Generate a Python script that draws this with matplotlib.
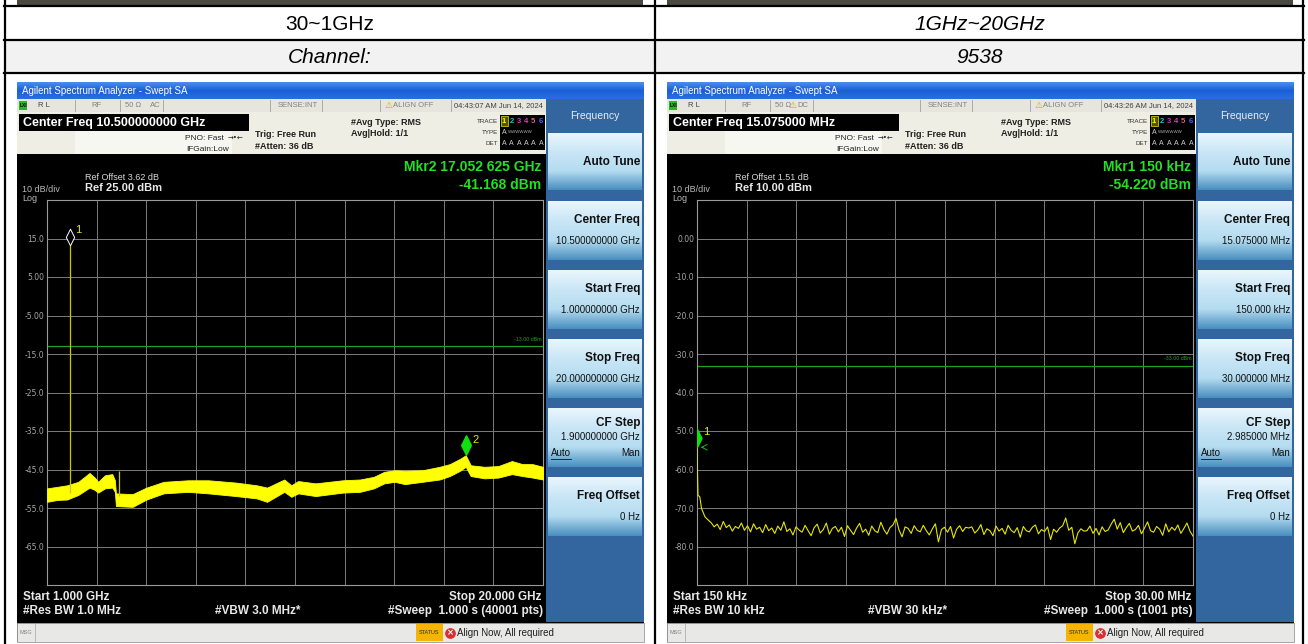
import numpy as np
import matplotlib
matplotlib.use("Agg")
import matplotlib.pyplot as plt
from matplotlib.patches import Rectangle
from matplotlib.path import Path
from matplotlib.ticker import FuncFormatter
from matplotlib.colors import LinearSegmentedColormap
import matplotlib.transforms as mtrans

W, H = 1308, 644
SCR = ['Liberation Sans Narrow', 'Liberation Sans', 'DejaVu Sans']
TAB = ['Liberation Sans', 'DejaVu Sans']

# ---- table text ----
row1_text = ["30~1GHz", "1GHz~20GHz"]
row2_text = ["Channel:", "9538"]

# ---- left screen: 1 GHz .. 20 GHz, ref 25 dBm ----
left_freq_ghz = [1.00, 1.40, 1.77, 2.20, 2.63, 2.83, 2.96, 3.22, 3.50, 3.60,
                 3.64, 4.28, 4.81, 5.47, 6.40, 7.18, 8.24, 9.03, 9.43, 10.09,
                 10.36, 10.62, 11.29, 12.33, 12.99, 13.52, 13.92, 14.32, 14.71, 15.38,
                 16.04, 16.43, 16.83, 17.04, 17.23, 17.76, 18.29, 18.81, 19.21, 19.60, 20.00]
left_upper_dbm = [-49.9, -49.5, -49.1, -48.2, -45.9, -47.1, -48.2, -46.5, -46.2, -47.8,
                  -51.2, -51.4, -49.7, -48.2, -47.8, -47.8, -48.4, -49.1, -49.7, -47.6,
                  -49.1, -48.0, -48.6, -47.8, -47.6, -46.9, -45.6, -45.2, -45.3, -45.2,
                  -44.3, -43.6, -42.2, -41.3, -43.9, -44.3, -44.1, -42.8, -43.6, -43.6, -44.3]
left_lower_dbm = [-53.4, -52.9, -52.8, -51.6, -49.7, -50.3, -51.0, -49.9, -49.7, -50.8,
                  -54.5, -54.7, -52.8, -51.2, -50.8, -51.2, -51.9, -52.5, -53.4, -50.8,
                  -52.1, -51.2, -51.9, -51.0, -50.8, -49.9, -48.6, -48.2, -48.8, -48.2,
                  -47.6, -46.7, -45.3, -44.3, -46.7, -47.3, -47.1, -46.2, -46.7, -47.1, -47.6]
left_spike_ghz = [1.88, 3.75]
left_spike_top = [13.3, -45.5]
left_spike_base = [-51.0, -52.0]
left_mkr_ghz = [1.88, 17.052625]
left_mkr_dbm = [13.3, -41.168]
left_limit_dbm = -13.0

# ---- right screen: 150 kHz .. 30 MHz, ref 10 dBm ----
right_head_mhz = [0.15, 0.21, 0.32, 0.42, 0.63, 0.94]
right_head_dbm = [-54.22, -66.7, -67.1, -70.1, -72.3, -73.6]
right_noise_dbm = [
    -73.8, -74.9, -74.2, -75.6, -73.5, -75.1, -74.4, -76.0, -74.8, -75.3, -73.9, -75.8, -74.6, -76.2, -74.1, -75.5, -75.0, -76.4, -74.3, -75.9,
    -75.2, -76.6, -74.7, -75.8, -73.6, -76.1, -75.4, -77.0, -74.9, -75.7, -76.3, -74.5, -75.9, -77.2, -75.1, -74.2, -76.5, -75.6, -73.9, -76.8,
    -75.3, -74.8, -76.2, -75.0, -77.4, -74.6, -75.8, -76.9, -75.2, -74.0, -76.3, -75.5, -77.1, -74.7, -75.9, -76.4, -73.7, -75.6, -76.8, -75.1,
    -74.4, -72.7, -75.7, -77.5, -74.9, -75.3, -76.6, -74.6, -75.8, -76.2, -74.5, -75.9, -77.0, -75.4, -74.1, -78.8, -75.6, -75.0, -76.3, -74.8,
    -77.8, -75.5, -74.6, -76.1, -75.0, -75.2, -74.9, -76.5, -75.7, -74.3, -76.9, -75.4, -75.9, -77.2, -74.7, -76.0, -75.3, -76.8, -74.5, -75.8,
    -76.4, -75.1, -77.6, -74.8, -75.9, -76.2, -75.0, -74.4, -76.7, -75.6, -76.1, -74.9, -78.2, -75.5, -76.3, -75.2, -74.6, -72.6, -75.8, -75.0,
    -79.3, -76.5, -75.4, -76.0, -75.9, -74.7, -76.6, -75.3, -77.0, -74.9, -76.1, -75.7, -74.2, -72.9, -75.5, -73.8, -76.4, -75.1, -74.0, -76.0,
    -75.6, -74.5, -76.7, -75.2, -73.6, -75.9, -76.3, -74.8, -75.5, -77.1, -74.1, -76.2, -75.0, -75.8, -74.4, -76.6, -75.3, -73.9, -76.0, -77.3]
right_mkr_mhz = [0.15]
right_mkr_dbm = [-54.22]
right_limit_dbm = -33.0

# ---- softkeys ----
sk_titles = ["Auto Tune", "Center Freq", "Start Freq", "Stop Freq", "CF Step", "Freq Offset"]
sk_left_vals = ["", "10.500000000 GHz", "1.000000000 GHz", "20.000000000 GHz", "1.900000000 GHz", "0 Hz"]
sk_right_vals = ["", "15.075000 MHz", "150.000 kHz", "30.000000 MHz", "2.985000 MHz", "0 Hz"]
sk_box = [(133, 190), (201, 260), (270, 329), (339, 398), (408, 467), (477, 536)]

fig = plt.figure(figsize=(W / 100, H / 100), dpi=100)
bg = fig.add_axes([0, 0, 1, 1])
bg.axis('off')


def rect(x0, y0, x1, y1, fc, ec='none', lw=0, z=1):
    bg.add_patch(Rectangle((x0, y0), x1 - x0, y1 - y0, fc=fc, ec=ec, lw=lw, zorder=z))


def txt(x, y, s, size=7, color='black', ha='left', weight='normal', fam=SCR, style='normal', z=5):
    bg.text(x, y, s, fontsize=size, color=color, ha=ha, va='center', fontweight=weight,
            family=fam, style=style, zorder=z)


def grad(x0, y0, x1, y1, colors, z=2):
    cm = LinearSegmentedColormap.from_list('g', colors)
    g = np.linspace(0, 1, 64).reshape(-1, 1)
    bg.imshow(g, cmap=cm, extent=(x0, x1, y1, y0), aspect='auto', zorder=z, interpolation='bilinear')


# ---- table ----
rect(17, 0, 643, 5, '#4a4840')
rect(667, 0, 1293, 5, '#4a4840')
rect(5, 41, 1303, 73, '#f2f2f2')
for yy in [6, 40, 73]:
    bg.plot([4, 1304], [yy, yy], color='black', lw=1.6, zorder=6)
for xx in [5, 655, 1303]:
    bg.plot([xx, xx], [0, 644], color='black', lw=1.6, zorder=6)
txt(330, 24, row1_text[0], size=15, fam=TAB, ha='center')
txt(980, 24, row1_text[1], size=15, fam=TAB, ha='center', style='italic')
txt(330, 57, row2_text[0], size=15, fam=TAB, ha='center', style='italic')
txt(980, 57, row2_text[1], size=15, fam=TAB, ha='center', style='italic')

ylab = FuncFormatter(lambda v, p: '%.1f' % v if abs(v) >= 9.99 else '%.2f' % v)


def screen(ox, center_txt, ref_off, ref_txt, mkr_lines, clock, warn_dc, sk_vals,
           start_txt, stop_txt, rbw_txt, vbw_txt, sweep_txt, ref_level):
    rect(ox + 17, 82, ox + 644, 642, 'black', z=1)
    # title bar
    grad(ox + 17, 82, ox + 644, 99, ['#4d8ef0', '#1b5fd6', '#2a6ee0'])
    txt(ox + 22, 91, "Agilent Spectrum Analyzer - Swept SA", size=7, color='white')
    # status row
    rect(ox + 17, 99, ox + 546, 112, '#e6e6df', z=2)
    for sx in [75, 120, 163, 270, 322, 380, 451]:
        bg.plot([ox + sx, ox + sx], [100, 111], color='#a0a0a0', lw=0.6, zorder=3)
    rect(ox + 19, 101, ox + 27, 110, '#22bb22', z=3)
    txt(ox + 20, 105.5, "LXI", size=3.5, color='black', weight='bold')
    txt(ox + 38, 105.5, "R L", size=5.5, color='#404040')
    txt(ox + 91, 105.5, "RF", size=5.5, color='#808080')
    txt(ox + 125, 105.5, "50 Ω", size=5.5, color='#808080')
    if warn_dc:
        txt(ox + 139, 105.5, "⚠", size=6.5, color='#d8a800', fam=['DejaVu Sans'])
        txt(ox + 147, 105.5, "DC", size=5.5, color='#808080')
    else:
        txt(ox + 150, 105.5, "AC", size=5.5, color='#808080')
    txt(ox + 318, 105.5, "SENSE:INT", size=5.5, color='#808080', ha='right')
    txt(ox + 385, 105.5, "⚠", size=6.5, color='#d8a800', fam=['DejaVu Sans'])
    txt(ox + 393, 105.5, "ALIGN OFF", size=5.5, color='#808080')
    txt(ox + 454, 105.5, clock, size=5.5, color='#404040')
    # settings block
    rect(ox + 17, 112, ox + 546, 154, '#efeee4', z=2)
    rect(ox + 75, 131, ox + 232, 154, '#f7f7f2', z=2)
    rect(ox + 19, 114, ox + 249, 131, 'black', z=3)
    txt(ox + 23, 123, center_txt, size=9, color='white', weight='bold')
    txt(ox + 224, 138, "PNO: Fast", size=6, color='#202020', ha='right')
    txt(ox + 228, 138, "→•←", size=5, color='#202020', fam=['DejaVu Sans'])
    txt(ox + 229, 149, "IFGain:Low", size=6, color='#202020', ha='right')
    txt(ox + 255, 134, "Trig: Free Run", size=6.5, color='#202020', weight='bold')
    txt(ox + 255, 146, "#Atten: 36 dB", size=6.5, color='#202020', weight='bold')
    txt(ox + 351, 122, "#Avg Type: RMS", size=6.5, color='#202020', weight='bold')
    txt(ox + 351, 133, "Avg|Hold: 1/1", size=6.5, color='#202020', weight='bold')
    txt(ox + 498, 121, "TRACE", size=4.5, color='#303030', ha='right')
    txt(ox + 498, 132, "TYPE", size=4.5, color='#303030', ha='right')
    txt(ox + 498, 143, "DET", size=4.5, color='#303030', ha='right')
    rect(ox + 500, 115, ox + 545, 150, 'black', z=3)
    rect(ox + 501, 116, ox + 508, 126, '#555500', ec='#c8c800', lw=0.6, z=4)
    tcol = ['#ffff00', '#20c8c8', '#c040c0', '#e040b0', '#e06080', '#5060ff']
    for i, c in enumerate(tcol):
        txt(ox + 502 + i * 7.3, 121, str(i + 1), size=5.5, color=c, weight='bold')
        txt(ox + 502 + i * 7.3, 143, "A", size=5, color='#d0d0d0')
    txt(ox + 502, 132, "A", size=5, color='#d0d0d0')
    txt(ox + 508, 132, "WWWWWW", size=3.2, color='#b0b0b0')
    # softkey panel
    rect(ox + 546, 99, ox + 644, 622, '#33659e', z=2)
    txt(ox + 595, 116, "Frequency", size=7.5, color='#e8eef6', ha='center')
    for (y0, y1), t, v in zip(sk_box, sk_titles, sk_vals):
        grad(ox + 548, y0, ox + 642, y1, ['#eaf6fc', '#c9e6f6', '#b4dcf0', '#4a8fc0'], z=3)
        if v:
            ty = y0 + (y1 - y0) * 0.33 if t != "CF Step" else y0 + 15
            txt(ox + 640, ty, t, size=8.5, color='#101010', weight='bold', ha='right')
            vy = y0 + (y1 - y0) * 0.68 if t != "CF Step" else y0 + 29
            txt(ox + 640, vy, v, size=7, color='#101010', ha='right')
            if t == "CF Step":
                txt(ox + 551, y0 + 45, "Auto", size=7, color='#101010')
                bg.plot([ox + 551, ox + 571], [y0 + 51, y0 + 51], color='#101010', lw=0.6, zorder=5)
                txt(ox + 640, y0 + 45, "Man", size=7, color='#101010', ha='right')
        else:
            txt(ox + 640, (y0 + y1) / 2, t, size=8.5, color='#101010', weight='bold', ha='right')
    # msg bar
    rect(ox + 17, 623, ox + 644, 642, '#e8e8e6', ec='#9a9a9a', lw=0.6, z=2)
    bg.plot([ox + 35, ox + 35], [624, 641], color='#b0b0b0', lw=0.6, zorder=3)
    txt(ox + 20, 633, "MSG", size=4, color='#808080')
    rect(ox + 416, 624, ox + 443, 641, '#f4b400', z=3)
    txt(ox + 429.5, 633, "STATUS", size=4, color='#303030', ha='center')
    bg.scatter([ox + 450], [633], s=45, color='#d83030', zorder=4)
    txt(ox + 450, 633, "×", size=6, color='white', ha='center', weight='bold', fam=['DejaVu Sans'], z=5)
    txt(ox + 457, 633, "Align Now, All required", size=7, color='#202020', fam=TAB)
    # text around grid
    txt(ox + 22, 189, "10 dB/div", size=6.5, color='#b8b8b8')
    txt(ox + 22, 198, "Log", size=6.5, color='#b8b8b8')
    txt(ox + 85, 177, ref_off, size=6.5, color='#d8d8d8')
    txt(ox + 85, 188, ref_txt, size=8, color='#e8e8e8', weight='bold')
    txt(ox + 541, 167, mkr_lines[0], size=10, color='#22e022', ha='right', weight='bold')
    txt(ox + 541, 185, mkr_lines[1], size=10, color='#22e022', ha='right', weight='bold')
    txt(ox + 23, 597, start_txt, size=8.5, color='#e8e8e8', weight='bold')
    txt(ox + 541, 597, stop_txt, size=8.5, color='#e8e8e8', weight='bold', ha='right')
    txt(ox + 23, 611, rbw_txt, size=8.5, color='#e8e8e8', weight='bold')
    txt(ox + 258, 611, vbw_txt, size=8.5, color='#e8e8e8', weight='bold', ha='center')
    txt(ox + 543, 611, sweep_txt, size=8.5, color='#e8e8e8', weight='bold', ha='right')

    x0, x1, y0, y1 = ox + 47, ox + 543, 200, 585
    ax = fig.add_axes([x0 / W, 1 - y1 / H, (x1 - x0) / W, (y1 - y0) / H])
    ax.set_facecolor('black')
    ax.set_ylim(ref_level - 100, ref_level)
    ax.set_yticks(np.arange(ref_level - 100, ref_level + 1, 10))
    ax.yaxis.set_major_formatter(FuncFormatter(
        lambda v, p: '' if abs(v - ref_level) < 1 or abs(v - ref_level + 100) < 1 else ylab(v, p)))
    ax.tick_params(length=0, pad=2, labelsize=5.5, labelcolor='#a8a8a8')
    for s in ax.spines.values():
        s.set_color('#9a9a9a')
        s.set_linewidth(0.8)
    ax.grid(True, color='#7c7c7c', lw=0.7)
    return ax


diamond = Path([(0, 1), (0.5, 0), (0, -1), (-0.5, 0), (0, 1)],
               [Path.MOVETO, Path.LINETO, Path.LINETO, Path.LINETO, Path.CLOSEPOLY])

# left screen
axL = screen(0, "Center Freq 10.500000000 GHz", "Ref Offset 3.62 dB", "Ref 25.00 dBm",
             ["Mkr2 17.052 625 GHz", "-41.168 dBm"], "04:43:07 AM Jun 14, 2024", False, sk_left_vals,
             "Start 1.000 GHz", "Stop 20.000 GHz", "#Res BW 1.0 MHz", "#VBW 3.0 MHz*",
             "#Sweep  1.000 s (40001 pts)", 25)
axL.set_xlim(1, 20)
axL.set_xticks(np.linspace(1, 20, 11))
axL.set_xticklabels([])
axL.fill_between(left_freq_ghz, left_lower_dbm, left_upper_dbm, color='#ffff00', lw=0.6, ec='#ffff00', zorder=3)
axL.vlines(left_spike_ghz, left_spike_base, left_spike_top, color='#c8c800', lw=0.9, zorder=3)
axL.axhline(left_limit_dbm, color='#1fa01f', lw=0.9, zorder=2)
axL.text(19.95, left_limit_dbm + 1.2, "-13.00 dBm", fontsize=3.8, color='#1fa01f', ha='right', va='bottom', family=SCR)
off = mtrans.offset_copy(axL.transData, fig=fig, x=0, y=8.5, units='dots')
axL.plot(left_mkr_ghz[0], left_mkr_dbm[0], marker=diamond, ms=12, mfc='black', mec='white', mew=0.7,
         transform=off, zorder=5, clip_on=False)
axL.plot(left_mkr_ghz[1], left_mkr_dbm[1], marker=diamond, ms=14, mfc='#10e010', mec='#10e010',
         transform=mtrans.offset_copy(axL.transData, fig=fig, x=0, y=10, units='dots'), zorder=5)
axL.annotate("1", (left_mkr_ghz[0], left_mkr_dbm[0]), xytext=(5, 12), textcoords='offset pixels',
             color='#e8e800', fontsize=8, family=SCR)
axL.annotate("2", (left_mkr_ghz[1], left_mkr_dbm[1]), xytext=(6, 12), textcoords='offset pixels',
             color='#e8e800', fontsize=8, family=SCR)

# right screen
axR = screen(650, "Center Freq 15.075000 MHz", "Ref Offset 1.51 dB", "Ref 10.00 dBm",
             ["Mkr1 150 kHz", "-54.220 dBm"], "04:43:26 AM Jun 14, 2024", True, sk_right_vals,
             "Start 150 kHz", "Stop 30.00 MHz", "#Res BW 10 kHz", "#VBW 30 kHz*",
             "#Sweep  1.000 s (1001 pts)", 10)
axR.set_xlim(0.15, 30)
axR.set_xticks(np.linspace(0.15, 30, 11))
axR.set_xticklabels([])
rf = list(right_head_mhz) + list(np.linspace(1.0, 30.0, len(right_noise_dbm)))
rv = list(right_head_dbm) + list(right_noise_dbm)
axR.plot(rf, rv, color='#e6e600', lw=0.8, zorder=3)
axR.axhline(right_limit_dbm, color='#1fa01f', lw=0.9, zorder=2)
axR.text(29.9, right_limit_dbm + 1.2, "-33.00 dBm", fontsize=3.8, color='#1fa01f', ha='right', va='bottom', family=SCR)
axR.plot(right_mkr_mhz[0], right_mkr_dbm[0], marker=diamond, ms=13, mfc='#10e010', mec='#10e010',
         transform=mtrans.offset_copy(axR.transData, fig=fig, x=0, y=9, units='dots'), zorder=5)
axR.annotate("1", (right_mkr_mhz[0], right_mkr_dbm[0]), xytext=(6, 12), textcoords='offset pixels',
             color='#e8e800', fontsize=8, family=SCR)
axR.annotate("", (right_mkr_mhz[0] + 0.05, right_mkr_dbm[0]), xytext=(right_mkr_mhz[0] + 0.55, right_mkr_dbm[0]),
             arrowprops=dict(arrowstyle='->', color='#10c010', lw=0.7))

bg.set_xlim(0, W)
bg.set_ylim(H, 0)
fig.savefig("out.png", dpi=100, facecolor='white')
